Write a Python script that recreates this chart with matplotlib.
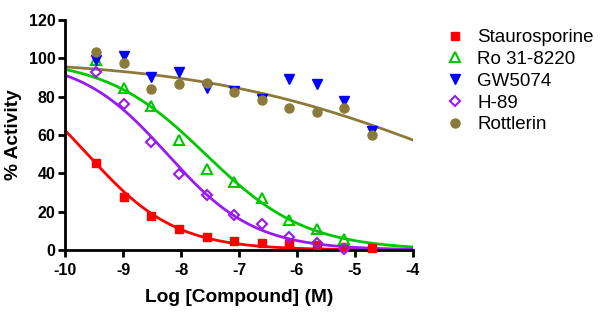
import numpy as np
import matplotlib
matplotlib.use("Agg")
import matplotlib.pyplot as plt
from matplotlib.lines import Line2D

plt.rcParams['font.family'] = ['Liberation Sans', 'DejaVu Sans']

# log concentrations (M)
log_conc = [-9.47, -8.99, -8.52, -8.04, -7.56, -7.08, -6.61, -6.13, -5.65, -5.18, -4.70]

staurosporine = [45.5, 27.5, 18.0, 11.0, 7.0, 4.8, 3.5, 3.0, 2.6, 1.7, 0.9]
ro_31_8220 = [99.0, 84.5, 75.0, 57.5, 42.5, 35.5, 27.0, 15.5, 11.0, 6.0]
gw5074 = [99.0, 101.0, 90.5, 93.0, 84.5, 83.0, 79.0, 89.0, 86.5, 78.0, 62.0]
h_89 = [93.0, 76.0, 56.5, 39.5, 28.7, 18.5, 13.5, 7.0, 3.5, 0.5]
rottlerin = [103.5, 97.5, 84.0, 86.5, 87.0, 82.5, 78.5, 74.0, 72.0, 74.0, 60.0]

# fitted dose-response parameters (logIC50, Hill slope), top=100, bottom=0
fit_stauro = (-9.62, 0.57)
fit_ro = (-7.58, 0.50)
fit_h89 = (-8.24, 0.575)
fit_rott = (-3.35, 0.20)

names = ["Staurosporine", "Ro 31-8220", "GW5074", "H-89", "Rottlerin"]
xticks = [-10, -9, -8, -7, -6, -5, -4]
xticklabels = ["-10", "-9", "-8", "-7", "-6", "-5", "-4"]
yticks = [0, 20, 40, 60, 80, 100, 120]

def hill(x, p):
    c, h = p
    return 100.0 / (1.0 + 10 ** ((x - c) * h))

fig = plt.figure(figsize=(6.0, 3.23), dpi=100)
ax = fig.add_axes([0.109, 0.226, 0.579, 0.712])

xs = np.linspace(-10, -4, 300)
red, green, blue, purple, brown = '#FF0000', '#00C800', '#0000FF', '#9A1AF0', '#8C7A3A'
lw = 2.0

ax.plot(xs, hill(xs, fit_stauro), color=red, lw=lw, zorder=2)
ax.plot(xs, hill(xs, fit_ro), color=green, lw=lw, zorder=2)
ax.plot(xs, hill(xs, fit_h89), color=purple, lw=lw, zorder=2)
ax.plot(xs, hill(xs, fit_rott), color=brown, lw=lw, zorder=2)

ax.plot(log_conc[:len(staurosporine)], staurosporine, 's', color=red, ms=6, clip_on=False, zorder=3)
ax.plot(log_conc[:len(ro_31_8220)], ro_31_8220, '^', mfc='none', mec=green, mew=1.5, ms=7.5, clip_on=False, zorder=3)
ax.plot(log_conc[:len(gw5074)], gw5074, 'v', color=blue, ms=7.5, clip_on=False, zorder=3)
ax.plot(log_conc[:len(h_89)], h_89, 'D', mfc='none', mec=purple, mew=1.5, ms=5.5, clip_on=False, zorder=3)
ax.plot(log_conc[:len(rottlerin)], rottlerin, 'o', color=brown, ms=6.5, clip_on=False, zorder=3)

ax.set_xlim(-10, -4)
ax.set_ylim(0, 120)
ax.set_xticks(xticks)
ax.set_xticklabels(xticklabels)
ax.set_yticks(yticks)
for s in ['top', 'right']:
    ax.spines[s].set_visible(False)
for s in ['left', 'bottom']:
    ax.spines[s].set_linewidth(2.0)
ax.tick_params(axis='both', direction='out', length=5, width=2.0, labelsize=11.5)
ax.tick_params(axis='x', pad=4)
ax.tick_params(axis='y', pad=2)
for lab in ax.get_xticklabels() + ax.get_yticklabels():
    lab.set_fontweight('bold')
ax.set_xlabel("Log [Compound] (M)", fontsize=13.8, fontweight='bold', labelpad=8.5)
ax.set_ylabel("% Activity", fontsize=13.8, fontweight='bold', labelpad=5)

handles = [
    Line2D([], [], ls='none', marker='s', color=red, ms=6),
    Line2D([], [], ls='none', marker='^', mfc='none', mec=green, mew=1.5, ms=7.5),
    Line2D([], [], ls='none', marker='v', color=blue, ms=7.5),
    Line2D([], [], ls='none', marker='D', mfc='none', mec=purple, mew=1.5, ms=5.5),
    Line2D([], [], ls='none', marker='o', color=brown, ms=6.5),
]
fig.legend(handles, names, loc='upper left', bbox_to_anchor=(0.743, 0.910),
           frameon=False, fontsize=13.5, handlelength=1.0, handletextpad=0.67,
           labelspacing=0.25, borderaxespad=0, borderpad=0)

fig.savefig("out.png", dpi=100)
